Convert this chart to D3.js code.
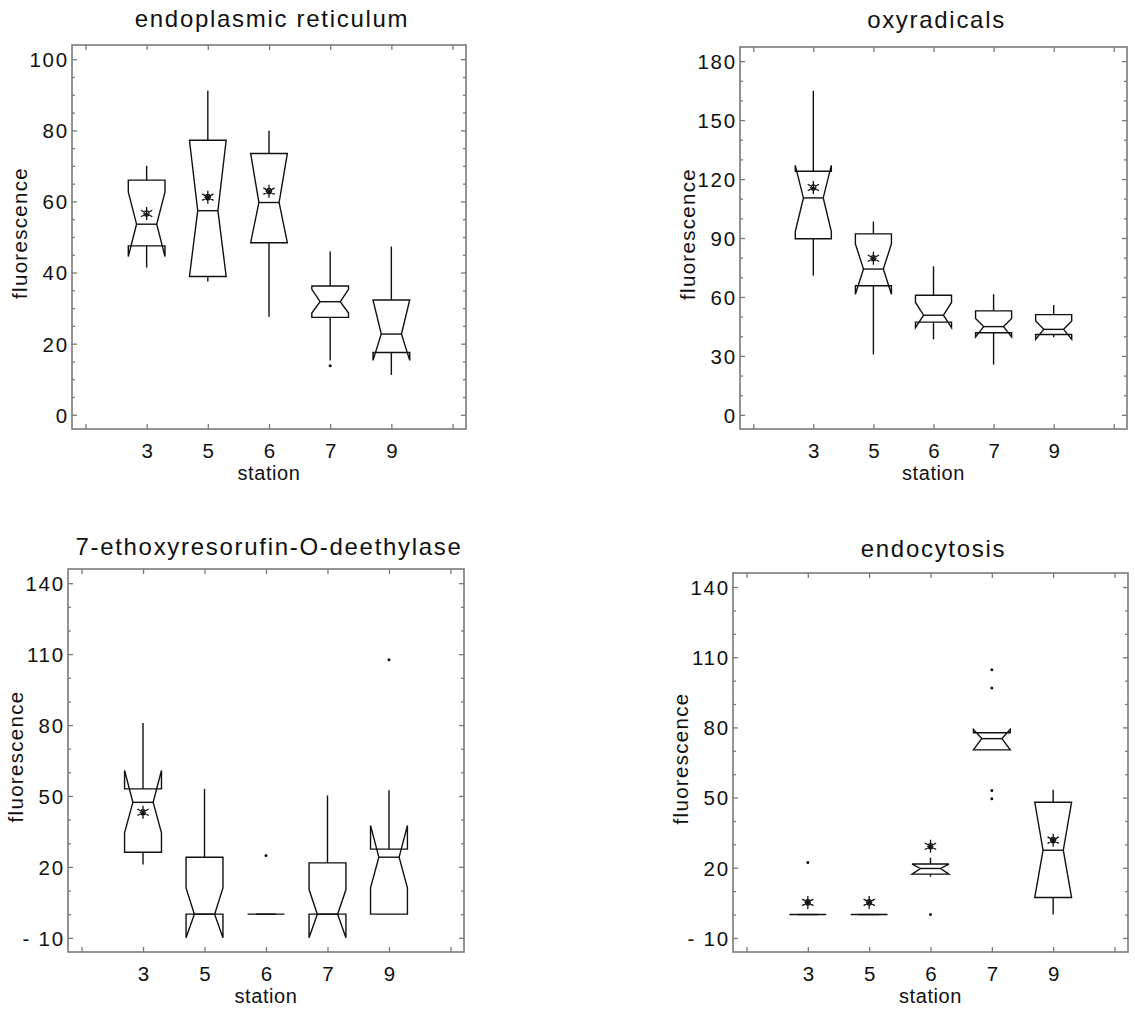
<!DOCTYPE html>
<html>
<head>
<meta charset="utf-8">
<script src="https://cdn.jsdelivr.net/npm/d3@7"></script>
<style>
  body { margin: 0; background: #fff; }
  svg { display: block; }
  text { font-family: "Liberation Sans", Arial, Helvetica, sans-serif; fill: #111; }
</style>
</head>
<body>
<div id="chart"></div>
<script>
// DATA: station categories shared by all four panels
const stations = ['3', '5', '6', '7', '9'];

// notched box stats
// lo/hi = whisker ends, q1/q3 = box, nlo/nhi = notch ends, med = median, mean = star
const erBoxes = [
    {lo: 41.4, q1: 47.5, nlo: 44.5, med: 53.6, nhi: 62.7, q3: 66.0, hi: 70.0, mean: 56.6, out: []},
    {lo: 37.5, q1: 38.9, nlo: 38.9, med: 57.4, nhi: 77.2, q3: 77.2, hi: 91.1, mean: 61.2, out: []},
    {lo: 27.6, q1: 48.4, nlo: 48.4, med: 59.7, nhi: 73.5, q3: 73.5, hi: 79.9, mean: 62.9, out: []},
    {lo: 15.3, q1: 27.4, nlo: 28.6, med: 31.8, nhi: 35.3, q3: 36.2, hi: 45.9, mean: null, out: [13.8]},
    {lo: 11.2, q1: 17.5, nlo: 15.3, med: 22.7, nhi: 32.3, q3: 32.3, hi: 47.3, mean: null, out: []}
];
const oxyBoxes = [
    {lo: 70.8, q1: 89.6, nlo: 93.3, med: 110.4, nhi: 127.0, q3: 124.0, hi: 164.9, mean: 115.7, out: []},
    {lo: 30.7, q1: 65.7, nlo: 61.4, med: 74.2, nhi: 87.0, q3: 92.1, hi: 98.4, mean: 79.7, out: []},
    {lo: 38.4, q1: 47.2, nlo: 44.4, med: 50.7, nhi: 57.2, q3: 60.9, hi: 75.6, mean: null, out: []},
    {lo: 25.6, q1: 41.8, nlo: 39.6, med: 44.9, nhi: 49.0, q3: 52.9, hi: 61.4, mean: null, out: []},
    {lo: 39.5, q1: 40.9, nlo: 38.4, med: 43.5, nhi: 47.8, q3: 51.0, hi: 55.9, mean: null, out: []}
];
const erodBoxes = [
    {lo: 21.0, q1: 26.2, nlo: 34.4, med: 47.3, nhi: 60.8, q3: 53.0, hi: 80.9, mean: 43.1, out: []},
    {lo: 0, q1: 0, nlo: -10, med: 0, nhi: 11.1, q3: 24.1, hi: 53.0, mean: null, out: []},
    {lo: 0, q1: 0, nlo: 0, med: 0, nhi: 0, q3: 0, hi: 0, mean: null, out: [24.8]},
    {lo: 0, q1: 0, nlo: -10, med: 0, nhi: 10.4, q3: 21.7, hi: 50.2, mean: null, out: []},
    {lo: 0, q1: 0, nlo: 11.1, med: 24.1, nhi: 37.5, q3: 27.5, hi: 52.4, mean: null, out: [107.6]}
];
const endoBoxes = [
    {lo: 0, q1: 0, nlo: 0, med: 0, nhi: 0, q3: 0, hi: 0, mean: 5.2, out: [22.3]},
    {lo: 0, q1: 0, nlo: 0, med: 0, nhi: 0, q3: 0, hi: 0, mean: 5.2, out: []},
    {lo: 16.2, q1: 17.3, nlo: 17.3, med: 19.7, nhi: 21.6, q3: 21.6, hi: 24.3, mean: 29.2, out: [0]},
    {lo: 70.4, q1: 70.4, nlo: 70.4, med: 75.2, nhi: 79.2, q3: 77.7, hi: 77.7, mean: null, out: [104.6, 96.8, 53.0, 49.5]},
    {lo: 0, q1: 7.3, nlo: 7.3, med: 27.5, nhi: 48.0, q3: 48.0, hi: 53.3, mean: 31.8, out: []}
];

// tick values
const erTicks = [0, 20, 40, 60, 80, 100];
const oxyTicks = [0, 30, 60, 90, 120, 150, 180];
const erodTicks = [-10, 20, 50, 80, 110, 140];
const endoTicks = [-10, 20, 50, 80, 110, 140];

const W = 1135, H = 1009;
const frameColor = '#7a7a7a';

let svg = d3.select('#chart').append('svg')
    .attr('width', W)
    .attr('height', H);

svg.append('rect').attr('width', W).attr('height', H).attr('fill', '#fff');

let panels = [
    {title: 'endoplasmic reticulum', boxes: erBoxes, ticks: erTicks, minor: 5,
     x0: 72, y0: 45, w: 394, h: 384, titleY: 27},
    {title: 'oxyradicals', boxes: oxyBoxes, ticks: oxyTicks, minor: 10,
     x0: 740, y0: 47, w: 387, h: 382, titleY: 28},
    {title: '7-ethoxyresorufin-O-deethylase', boxes: erodBoxes, ticks: erodTicks, minor: 10,
     x0: 68, y0: 569, w: 396, h: 383, titleY: 555},
    {title: 'endocytosis', boxes: endoBoxes, ticks: endoTicks, minor: 10,
     x0: 733, y0: 573, w: 395, h: 379, titleY: 557}
];

panels.forEach(p => drawPanel(p));

function drawPanel(p) {
    let g = svg.append('g').attr('transform', `translate(${p.x0},${p.y0})`);

    let tMin = d3.min(p.ticks), tMax = d3.max(p.ticks);
    let pad = (tMax - tMin) * 0.04;

    let x = d3.scaleLinear().domain([-0.22, 6.22]).range([0, p.w]);
    let y = d3.scaleLinear().domain([tMin - pad, tMax + pad]).range([p.h, 0]);

    let minorVals = d3.range(tMin, tMax + 0.001, p.minor).filter(v => !p.ticks.includes(v));
    let positions = d3.range(0, 7);

    // minor ticks (left + right)
    g.append('g').call(d3.axisLeft(y).tickValues(minorVals).tickSize(-3).tickFormat(''))
        .call(styleAxis);
    g.append('g').attr('transform', `translate(${p.w},0)`)
        .call(d3.axisRight(y).tickValues(minorVals).tickSize(-3).tickFormat(''))
        .call(styleAxis);

    // major ticks with labels
    g.append('g').attr('class', 'y-axis')
        .call(d3.axisLeft(y).tickValues(p.ticks).tickSize(-5).tickPadding(3)
            .tickFormat(d => d < 0 ? '- ' + Math.abs(d) : d))
        .call(styleAxis)
        .selectAll('text')
        .attr('font-size', 20.5)
        .attr('letter-spacing', 1.8)
        .attr('dy', '0.36em');

    g.append('g').attr('transform', `translate(${p.w},0)`)
        .call(d3.axisRight(y).tickValues(p.ticks).tickSize(-5).tickFormat(''))
        .call(styleAxis);

    g.append('g').attr('transform', `translate(0,${p.h})`)
        .call(d3.axisBottom(x).tickValues(positions).tickSize(-5).tickPadding(14)
            .tickFormat(i => stations[i - 1] || ''))
        .call(styleAxis)
        .selectAll('text')
        .attr('font-size', 20.5)
        .attr('dy', '0.71em');

    g.append('g')
        .call(d3.axisTop(x).tickValues(positions).tickSize(-5).tickFormat(''))
        .call(styleAxis);

    // frame
    g.append('rect')
        .attr('width', p.w)
        .attr('height', p.h)
        .attr('fill', 'none')
        .attr('stroke', frameColor)
        .attr('stroke-width', 1.6);

    // titles and axis labels
    svg.append('text')
        .attr('x', p.x0 + p.w / 2 + 3)
        .attr('y', p.titleY)
        .attr('text-anchor', 'middle')
        .attr('font-size', 24)
        .attr('letter-spacing', 1.7)
        .text(p.title);

    g.append('text')
        .attr('x', p.w / 2)
        .attr('y', p.h + 51)
        .attr('text-anchor', 'middle')
        .attr('font-size', 20)
        .attr('letter-spacing', 0.6)
        .text('station');

    g.append('text')
        .attr('transform', `translate(-52,${p.h / 2 - 4}) rotate(-90)`)
        .attr('text-anchor', 'middle')
        .attr('dy', '0.35em')
        .attr('font-size', 20.5)
        .attr('letter-spacing', 1.3)
        .text('fluorescence');

    // boxes
    let hw = x(0.3) - x(0);
    let nw = hw * 0.55;

    let box = g.selectAll('.box')
        .data(p.boxes)
        .enter()
        .append('g')
        .attr('class', 'box')
        .attr('transform', (d, i) => `translate(${x(i + 1)},0)`);

    // whiskers
    box.append('line')
        .attr('y1', d => y(d.q3)).attr('y2', d => y(d.hi))
        .attr('stroke', '#111').attr('stroke-width', 1.4);
    box.append('line')
        .attr('y1', d => y(d.q1)).attr('y2', d => y(d.lo))
        .attr('stroke', '#111').attr('stroke-width', 1.4);

    box.append('path')
        .attr('d', d => {
            let pts = [
                [-hw, y(d.q3)], [hw, y(d.q3)], [hw, y(d.nhi)], [nw, y(d.med)],
                [hw, y(d.nlo)], [hw, y(d.q1)], [-hw, y(d.q1)], [-hw, y(d.nlo)],
                [-nw, y(d.med)], [-hw, y(d.nhi)]
            ];
            return d3.line()(pts) + 'Z';
        })
        .attr('fill', 'none')
        .attr('stroke', '#111')
        .attr('stroke-width', 1.4)
        .attr('stroke-linejoin', 'miter');

    box.append('line')
        .attr('x1', -nw).attr('x2', nw)
        .attr('y1', d => y(d.med)).attr('y2', d => y(d.med))
        .attr('stroke', '#111').attr('stroke-width', 1.4);

    // mean stars
    box.filter(d => d.mean !== null)
        .append('path')
        .attr('transform', d => `translate(0,${y(d.mean)})`)
        .attr('d', starPath(6.5, 2.8))
        .attr('fill', 'none')
        .attr('stroke', '#111')
        .attr('stroke-width', 1.3);

    // outliers
    box.selectAll('.out')
        .data(d => d.out)
        .enter()
        .append('circle')
        .attr('class', 'out')
        .attr('cy', v => y(v))
        .attr('r', 1.5)
        .attr('fill', '#111');
}

function styleAxis(sel) {
    sel.select('.domain').remove();
    sel.selectAll('.tick line').attr('stroke', frameColor).attr('stroke-width', 1.3);
}

// six spokes with a little hexagon in the middle
function starPath(r, hr) {
    let path = d3.path();
    for (let k = 0; k < 3; k++) {
        let a = Math.PI / 2 + k * Math.PI / 3;
        path.moveTo(r * Math.cos(a), r * Math.sin(a));
        path.lineTo(-r * Math.cos(a), -r * Math.sin(a));
    }
    for (let k = 0; k <= 6; k++) {
        let a = k * Math.PI / 3;
        if (k === 0) path.moveTo(hr * Math.cos(a), hr * Math.sin(a));
        else path.lineTo(hr * Math.cos(a), hr * Math.sin(a));
    }
    return path.toString();
}
</script>
</body>
</html>
